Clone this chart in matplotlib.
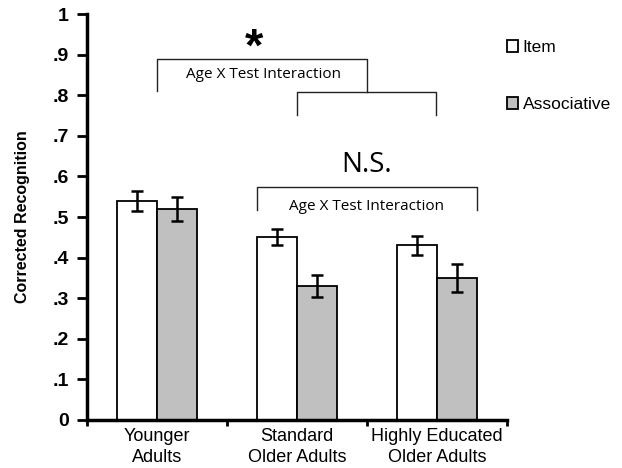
import numpy as np
import matplotlib
matplotlib.use('Agg')
import matplotlib.pyplot as plt

# data
groups = ['Younger\nAdults', 'Standard\nOlder Adults', 'Highly Educated\nOlder Adults']
item = [0.54, 0.45, 0.43]
item_err = [0.025, 0.02, 0.023]
assoc = [0.52, 0.33, 0.35]
assoc_err = [0.03, 0.027, 0.035]
yticks = [0, .1, .2, .3, .4, .5, .6, .7, .8, .9, 1]
ytick_labels = ['0', '.1', '.2', '.3', '.4', '.5', '.6', '.7', '.8', '.9', '1']

plt.rcParams['font.family'] = ['Liberation Sans', 'DejaVu Sans']

fig = plt.figure(figsize=(6.22, 4.68), dpi=100)
ax = fig.add_axes([0.14, 0.1026, 0.675, 0.8674])

x = np.arange(len(groups))
w = 0.2857
err_kw = dict(ecolor='black', elinewidth=1.8, capsize=4, capthick=1.8)
ax.bar(x - w/2, item, w, yerr=item_err, color='white', edgecolor='black',
       linewidth=1.3, label='Item', error_kw=err_kw)
ax.bar(x + w/2, assoc, w, yerr=assoc_err, color='#c0c0c0', edgecolor='black',
       linewidth=1.3, label='Associative', error_kw=err_kw)

ax.set_xlim(-0.5, 2.5)
ax.set_ylim(0, 1)
ax.set_yticks(yticks)
ax.set_yticklabels(ytick_labels, fontsize=14, fontweight='bold')
ax.set_xticks([-0.5, 0.5, 1.5, 2.5])
ax.set_xticklabels([])
ax.set_xticks(x, minor=True)
ax.set_xticklabels(groups, minor=True, fontsize=13, linespacing=1.3)
ax.tick_params(axis='x', which='minor', length=0, pad=6)
ax.tick_params(axis='x', which='major', length=4, width=2, direction='out')
ax.tick_params(axis='y', length=7, width=2, direction='out', pad=6)
ax.set_ylabel('Corrected Recognition', fontsize=11.5, fontweight='bold', labelpad=16)
for s in ['top', 'right']:
    ax.spines[s].set_visible(False)
for s in ['left', 'bottom']:
    ax.spines[s].set_linewidth(2.5)

# brackets
ann_font = ['Open Sans', 'DejaVu Sans']
def bracket(x0, x1, ytop, ybot0, ybot1):
    ax.plot([x0, x0, x1, x1], [ybot0, ytop, ytop, ybot1], color='#222222', lw=1.0,
            clip_on=False)

bracket(0, 1.5, 0.889, 0.81, 0.808)
bracket(1.0, 1.99, 0.808, 0.752, 0.752)
bracket(0.714, 2.286, 0.574, 0.517, 0.517)
ax.text(0.76, 0.85, 'Age X Test Interaction', ha='center', va='center',
        fontsize=11, family=ann_font)
ax.text(1.5, 0.526, 'Age X Test Interaction', ha='center', va='center',
        fontsize=11, family=ann_font)
ax.text(0.69, 0.915, '*', ha='center', va='center', fontsize=34,
        family=['Liberation Sans'], fontweight='bold')
ax.text(1.5, 0.628, 'N.S.', ha='center', va='center', fontsize=20, family=ann_font)

leg = fig.legend(loc='upper left', bbox_to_anchor=(0.815, 0.914), frameon=False,
                 fontsize=12.5, handlelength=0.65, handleheight=0.65,
                 handletextpad=0.25, labelspacing=2.4, borderpad=0,
                 borderaxespad=0)

fig.savefig('out.png', dpi=100)
